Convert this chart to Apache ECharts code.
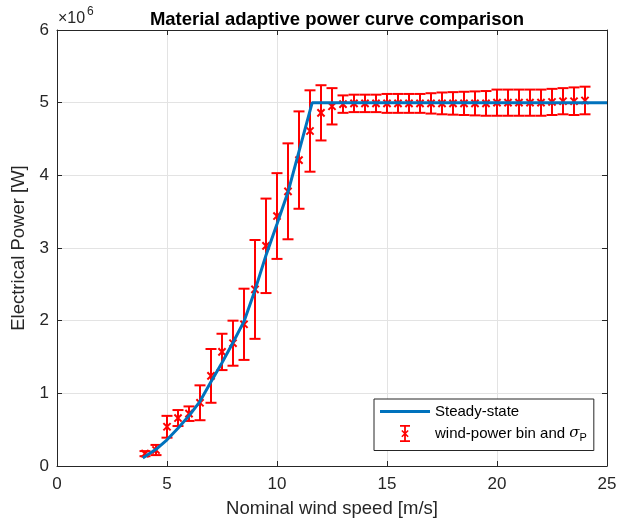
<!DOCTYPE html>
<html>
<head>
<meta charset="utf-8">
<script src="https://cdn.jsdelivr.net/npm/echarts@6/dist/echarts.min.js"></script>
<style>html,body{margin:0;padding:0;background:#fff}#c{width:630px;height:523px}</style>
</head>
<body>
<div id="c"></div>
<script>
// ---- data (power in units of 10^6 W) ----
const binWind = [4,4.5,5,5.5,6,6.5,7,7.5,8,8.5,9,9.5,10,10.5,11,11.5,12,12.5,13,13.5,14,14.5,15,15.5,16,16.5,17,17.5,18,18.5,19,19.5,20,20.5,21,21.5,22,22.5,23,23.5,24];
const binMean = [0.17,0.22,0.54,0.66,0.72,0.87,1.24,1.57,1.69,1.95,2.43,3.03,3.44,3.78,4.21,4.61,4.86,4.95,4.98,4.99,4.99,4.99,4.99,4.99,4.99,4.99,4.99,4.99,4.99,4.99,4.99,4.99,5.00,5.00,5.00,5.00,5.00,5.01,5.02,5.02,5.03];
const binStd  = [0.035,0.07,0.15,0.11,0.10,0.24,0.37,0.25,0.31,0.49,0.68,0.65,0.59,0.66,0.67,0.56,0.38,0.25,0.12,0.12,0.12,0.12,0.13,0.13,0.13,0.13,0.14,0.15,0.155,0.16,0.165,0.17,0.18,0.18,0.18,0.18,0.18,0.18,0.18,0.19,0.19];
const ssWind  = [3.9,4.5,5,5.5,6,6.5,7,7.5,8,8.5,9,9.5,10,10.5,11,11.6,25];
const ssPower = [0.11,0.23,0.36,0.52,0.69,0.89,1.16,1.42,1.70,1.99,2.42,2.90,3.33,3.77,4.33,5.0,5.0];
const xTicks = [0,5,10,15,20,25];
const yTicks = [0,1,2,3,4,5,6];

const FONT = '"Liberation Sans", Arial, Helvetica, sans-serif';
const AX = '#262626';
const RED = '#ff0000';
const BLUE = '#0072bd';

const chart = echarts.init(document.getElementById('c'), null, {renderer: 'canvas'});

const errData = binWind.map((w, i) => [w, binMean[i], binStd[i]]);
const lineData = ssWind.map((w, i) => [w, ssPower[i]]);

const errIcon = 'path://M0,0h10v1.8h-10z M0,15.2h10v1.8h-10z M4.1,0h1.8v17h-1.8z M1.3,6L2.4,4.9L8.7,11.2L7.6,12.3z M7.6,4.9L8.7,6L2.4,12.3L1.3,11.2z';
const lineIcon = 'path://M0,0h50v3.2h-50z';

const baseX = {
  type: 'value', min: xTicks[0], max: xTicks[xTicks.length-1], interval: 5,
  axisLine: {show: true, onZero: false, lineStyle: {color: AX, width: 1}},
  axisTick: {show: true, inside: true, length: 5, lineStyle: {color: AX}},
};
const baseY = {
  type: 'value', min: yTicks[0], max: yTicks[yTicks.length-1], interval: 1,
  axisLine: {show: true, onZero: false, lineStyle: {color: AX, width: 1}},
  axisTick: {show: true, inside: true, length: 5, lineStyle: {color: AX}},
};

chart.setOption({
  animation: false,
  backgroundColor: '#fff',
  title: {
    text: 'Material adaptive power curve comparison',
    left: 332, textAlign: 'center', top: 5,
    textStyle: {fontFamily: FONT, fontSize: 18.5, fontWeight: 'bold', color: '#000'}
  },
  grid: {left: 57, right: 23, top: 30, bottom: 57},
  xAxis: [
    Object.assign({}, baseX, {
      position: 'bottom',
      name: 'Nominal wind speed [m/s]', nameLocation: 'middle', nameGap: 33,
      nameTextStyle: {fontFamily: FONT, fontSize: 18.5, color: AX},
      axisLabel: {fontFamily: FONT, fontSize: 17, color: AX, margin: 10},
      splitLine: {show: true, lineStyle: {color: '#e3e3e3', width: 1}}
    }),
    Object.assign({}, baseX, {
      position: 'top', axisLabel: {show: false}, splitLine: {show: false}
    })
  ],
  yAxis: [
    Object.assign({}, baseY, {
      position: 'left',
      name: 'Electrical Power [W]', nameLocation: 'middle', nameGap: 24,
      nameTextStyle: {fontFamily: FONT, fontSize: 18.5, color: AX},
      axisLabel: {fontFamily: FONT, fontSize: 17, color: AX, margin: 8},
      splitLine: {show: true, lineStyle: {color: '#e3e3e3', width: 1}}
    }),
    Object.assign({}, baseY, {
      position: 'right', axisLabel: {show: false}, splitLine: {show: false}
    })
  ],
  legend: {
    orient: 'vertical', left: 374, top: 399,
    padding: [5, 7, 7, 6], itemGap: 6, itemWidth: 50, itemHeight: 17,
    backgroundColor: '#fff', borderColor: AX, borderWidth: 1, borderRadius: 0,
    textStyle: {
      fontFamily: FONT, fontSize: 15, color: '#000',
      rich: {
        a: {fontFamily: FONT, fontSize: 15, color: '#000'},
        s: {fontFamily: '"DejaVu Serif", "Liberation Serif", serif', fontStyle: 'italic', fontSize: 15, color: '#000'},
        p: {fontFamily: FONT, fontSize: 11, color: '#000', padding: [9, 0, 0, 0]}
      }
    },
    formatter: function (name) {
      if (name === 'Steady-state') return '{a|Steady-state}';
      return '{a|wind-power bin and }{s|σ}{p|P}';
    },
    data: [
      {name: 'Steady-state', icon: lineIcon, itemStyle: {color: BLUE}},
      {name: 'wind-power bin and σP', icon: errIcon, itemStyle: {color: RED}}
    ]
  },
  graphic: [
    {type: 'text', left: 58, top: 11, style: {text: '×10', fontFamily: FONT, fontSize: 16, fill: AX}},
    {type: 'text', left: 87, top: 6, style: {text: '6', fontFamily: FONT, fontSize: 12, fill: AX}}
  ],
  series: [
    {
      name: 'wind-power bin and σP',
      type: 'custom',
      xAxisIndex: 0, yAxisIndex: 0,
      z: 2,
      data: errData,
      encode: {x: 0, y: 1},
      itemStyle: {color: RED},
      renderItem: function (params, api) {
        const x = api.value(0), y = api.value(1), e = api.value(2);
        const c = api.coord([x, y]);
        const t = api.coord([x, y + e]);
        const b = api.coord([x, y - e]);
        const hw = 5.5, m = 3.6;
        const st = {stroke: RED, lineWidth: 2, fill: null};
        return {
          type: 'group',
          children: [
            {type: 'line', shape: {x1: c[0], y1: t[1], x2: c[0], y2: b[1]}, style: st},
            {type: 'line', shape: {x1: c[0]-hw, y1: t[1], x2: c[0]+hw, y2: t[1]}, style: st},
            {type: 'line', shape: {x1: c[0]-hw, y1: b[1], x2: c[0]+hw, y2: b[1]}, style: st},
            {type: 'line', shape: {x1: c[0]-m, y1: c[1]-m, x2: c[0]+m, y2: c[1]+m}, style: st},
            {type: 'line', shape: {x1: c[0]-m, y1: c[1]+m, x2: c[0]+m, y2: c[1]-m}, style: st}
          ]
        };
      }
    },
    {
      name: 'Steady-state',
      type: 'line',
      xAxisIndex: 0, yAxisIndex: 0,
      z: 3,
      data: lineData,
      symbol: 'none',
      smooth: false,
      itemStyle: {color: BLUE},
      lineStyle: {color: BLUE, width: 3}
    }
  ]
});
</script>
</body>
</html>
